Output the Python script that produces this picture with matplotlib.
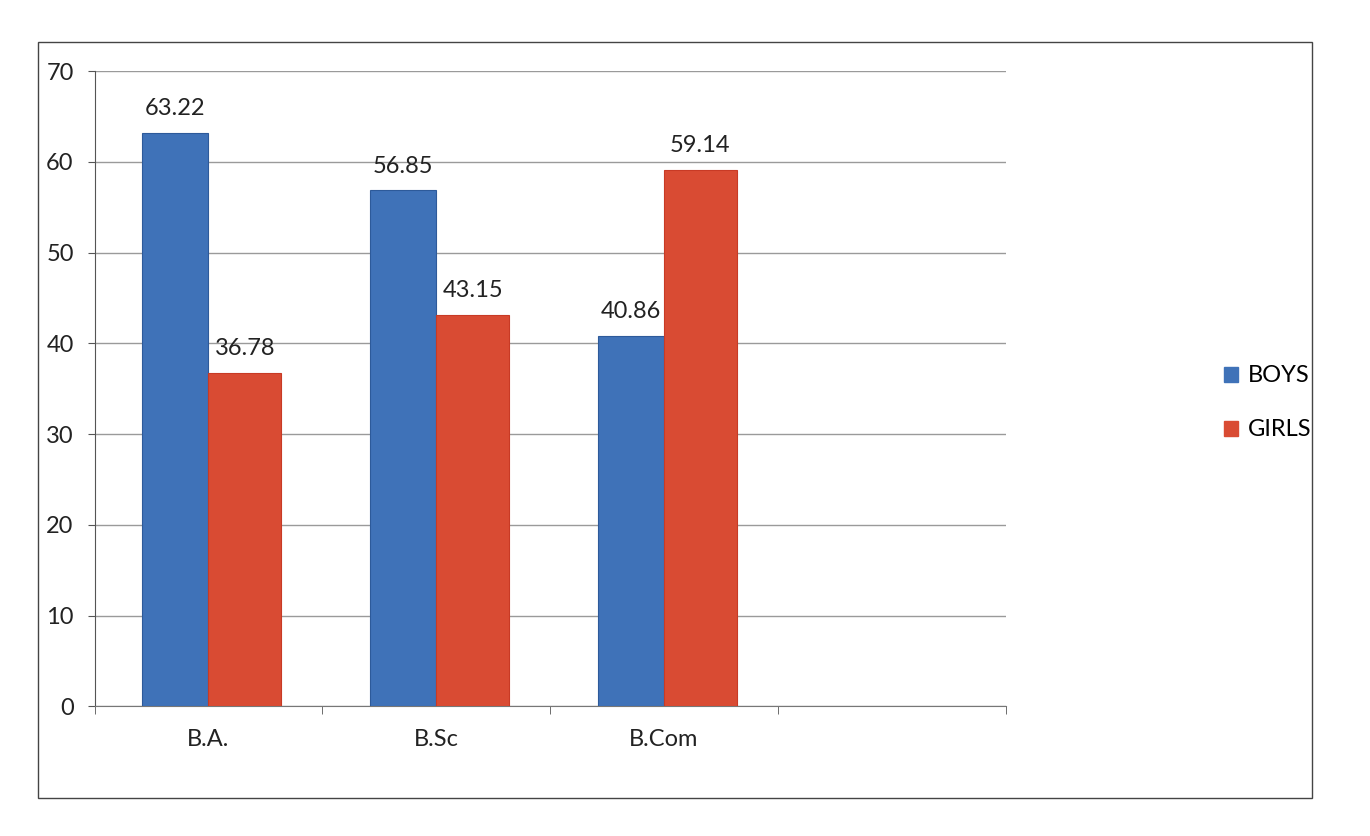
import matplotlib
matplotlib.use("Agg")
import matplotlib.pyplot as plt
import numpy as np
from matplotlib.patches import Rectangle

categories = ["B.A.", "B.Sc", "B.Com", ""]
boys = [63.22, 56.85, 40.86, None]
girls = [36.78, 43.15, 59.14, None]
series_names = ["BOYS", "GIRLS"]
yticks = [0, 10, 20, 30, 40, 50, 60, 70]

plt.rcParams['font.family'] = ['Lato', 'DejaVu Sans']

fig = plt.figure(figsize=(13.7, 8.36), dpi=100)
fig.patch.set_facecolor("white")
# outer chart frame
fig.add_artist(Rectangle((0.028, 0.045), 0.93, 0.905, transform=fig.transFigure,
                         fill=False, edgecolor="#444444", linewidth=1.0))

ax = fig.add_axes([0.069, 0.155, 0.665, 0.76])
blue = "#3f72b8"
red = "#d94b33"
w = 0.29
x = np.arange(len(categories))
bv = [v if v is not None else 0 for v in boys]
gv = [v if v is not None else 0 for v in girls]
b1 = ax.bar(x[:3] - w / 2, bv[:3], width=w, color=blue, edgecolor="#2d5a9a", linewidth=0.8,
            label=series_names[0], zorder=3)
b2 = ax.bar(x[:3] + w / 2 + 0.015, gv[:3], width=w + 0.03, color=red, edgecolor="#c83a25", linewidth=0.8,
            label=series_names[1], zorder=3)
for bars, vals in ((b1, bv), (b2, gv)):
    for rect, v in zip(bars, vals):
        ax.annotate(f"{v:.2f}", (rect.get_x() + rect.get_width() / 2, v),
                    xytext=(0, 10), textcoords="offset points", ha="center", va="bottom",
                    fontsize=17, color="#222222", zorder=4)

ax.set_xlim(-0.5, 3.5)
ax.set_ylim(0, 70)
ax.set_yticks(yticks)
ax.set_yticklabels([str(t) for t in yticks], fontsize=17, color="#222222")
ax.set_xticks(x)
ax.set_xticklabels(categories, fontsize=17, color="#222222")
ax.tick_params(axis="x", length=0, pad=16)
ax.tick_params(axis="y", length=5, pad=10, color="#555555")
ax.set_xticks(np.arange(-0.5, 4.0, 1.0), minor=True)
ax.tick_params(axis="x", which="minor", length=6, color="#555555")
ax.grid(axis="y", color="#9a9a9a", linewidth=1.0, zorder=0)
for s in ["top", "right"]:
    ax.spines[s].set_visible(False)
ax.spines["left"].set_color("#555555")
ax.spines["bottom"].set_color("#777777")

handles = [Rectangle((0, 0), 1, 1, color=blue), Rectangle((0, 0), 1, 1, color=red)]
fig.legend(handles, series_names, loc="center left", bbox_to_anchor=(0.878, 0.518),
           frameon=False, fontsize=17, handlelength=0.6, handleheight=0.6,
           labelspacing=1.4, handletextpad=0.4)

fig.savefig("out.png", dpi=100, facecolor="white")
